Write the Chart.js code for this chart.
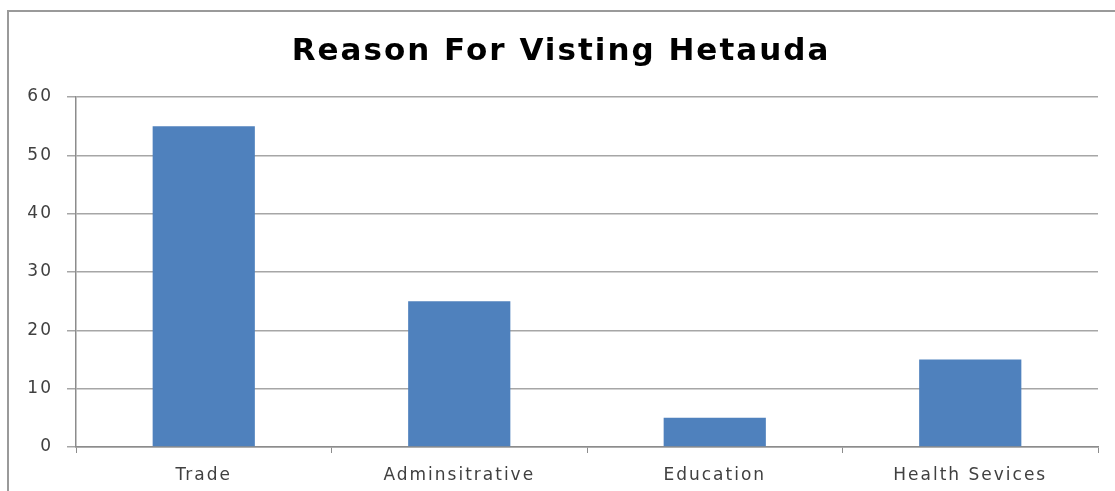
<!DOCTYPE html>
<html>
<head>
<meta charset="utf-8">
<script src="https://cdn.jsdelivr.net/npm/chart.js@4"></script>
<style>
  html, body { margin: 0; padding: 0; background: #fff; overflow: hidden; }
  #wrap { position: relative; width: 1115px; height: 491px; }
  #frame {
    position: absolute; left: 7px; top: 10px; width: 1200px; height: 600px;
    border: 2px solid #9a9a9a; box-sizing: border-box;
  }
  canvas { position: absolute; left: 0; top: 0; }
</style>
</head>
<body>
<div id="wrap">
  <div id="frame"></div>
  <canvas id="chart" width="1115" height="491"></canvas>
</div>
<script>
const titleText = 'Reason For Visting Hetauda';
const categories = ['Trade', 'Adminsitrative', 'Education', 'Health Sevices'];
const visitors = [55, 25, 5, 15];
const yTicks = [0, 10, 20, 30, 40, 50, 60];

const gridGray = '#a6a6a6';
const axisGray = '#8c8c8c';
const labelColor = '#404040';

// widen the lettering a little, the text is set loosely
const spacing = {
  id: 'spacing',
  beforeDraw(chart) { chart.ctx.letterSpacing = '2px'; },
};

const ctx = document.getElementById('chart').getContext('2d');
new Chart(ctx, {
  type: 'bar',
  data: {
    labels: categories,
    datasets: [{
      data: visitors,
      backgroundColor: '#4f81bd',
      borderWidth: 0,
      barPercentage: 0.4,
      categoryPercentage: 1.0,
    }],
  },
  plugins: [spacing],
  options: {
    responsive: false,
    animation: false,
    devicePixelRatio: 1,
    // left padding nudges the title right, the y axis takes up the rest
    layout: { padding: { left: 24, right: 17, top: 0, bottom: 0 } },
    plugins: {
      legend: { display: false },
      tooltip: { enabled: false },
      title: {
        display: true,
        text: titleText,
        color: '#000',
        font: { family: 'DejaVu Sans', size: 31, weight: 'bold', lineHeight: 1.2 },
        padding: { top: 33, bottom: 26.8 },
      },
    },
    scales: {
      x: {
        afterFit: (scale) => { scale.height = 44; },
        grid: {
          display: true,
          offset: true,
          drawOnChartArea: false,
          drawTicks: true,
          tickLength: 6,
          color: axisGray,
        },
        border: { display: true, color: axisGray, width: 1.5 },
        ticks: {
          color: labelColor,
          padding: 12,
          font: { family: 'DejaVu Sans', size: 17 },
        },
      },
      y: {
        min: 0,
        max: 60,
        afterBuildTicks: (scale) => {
          scale.ticks = yTicks.map(v => ({ value: v }));
        },
        afterFit: (scale) => { scale.width = 52; },
        grid: {
          color: gridGray,
          lineWidth: 1.5,
          tickLength: 9,
        },
        border: { display: true, color: axisGray, width: 1.5 },
        ticks: {
          color: labelColor,
          padding: 14,
          font: { family: 'DejaVu Sans', size: 17 },
        },
      },
    },
  },
});
</script>
</body>
</html>
